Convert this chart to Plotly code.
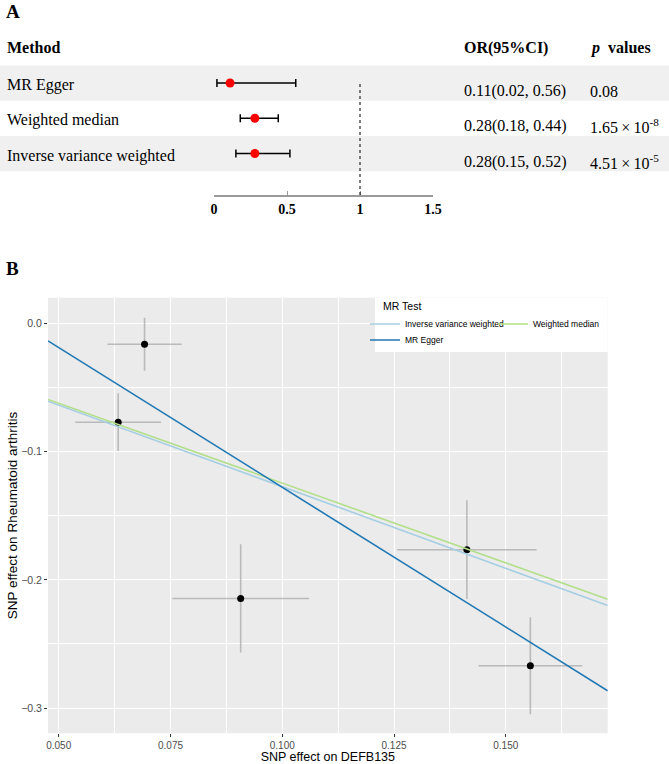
import plotly.graph_objects as go

# ------------------------
# Panel A data (forest plot)
# ------------------------
methods = ["MR Egger", "Weighted median", "Inverse variance weighted"]
or_est = [0.11, 0.28, 0.28]
or_lo = [0.02, 0.18, 0.15]
or_hi = [0.56, 0.44, 0.52]
or_text = ["0.11(0.02, 0.56)", "0.28(0.18, 0.44)", "0.28(0.15, 0.52)"]
p_text = ["0.08", "1.65\u2009\u00d7\u200910<sup>-8</sup>", "4.51\u2009\u00d7\u200910<sup>-5</sup>"]
row_pos = [3, 2, 1]

# ------------------------
# Panel B data (SNP scatter)
# ------------------------
beta_exp = [0.0692, 0.0633, 0.0907, 0.1413, 0.1555]
se_exp = [0.0083, 0.0096, 0.0153, 0.0156, 0.0116]
beta_out = [-0.0162, -0.0770, -0.2145, -0.1765, -0.2670]
se_out = [0.0207, 0.0225, 0.0422, 0.0385, 0.0378]

mr_methods = ["Inverse variance weighted", "Weighted median", "MR Egger"]
mr_slope = [-1.273, -1.245, -2.18]
mr_intercept = [0.0, 0.0, 0.0902]
mr_colors = ["#A6CEE3", "#B2DF8A", "#1F78B4"]
mr_legend = ["legend", "legend", "legend2"]

W, H = 669, 764
px = lambda v: v / W
py = lambda v: 1 - v / H

serif = "Liberation Serif"
sans = "Liberation Sans"

xr_b = [0.0476, 0.1728]
yr_b = [-0.3197, 0.0201]
yr_a = [-0.177, 4.22]

fig = go.Figure()

# forest plot points + CI
fig.add_trace(go.Scatter(
    x=or_est, y=row_pos, mode="markers",
    marker=dict(color="red", size=9),
    error_x=dict(type="data", symmetric=False,
                 array=[h - e for h, e in zip(or_hi, or_est)],
                 arrayminus=[e - l for e, l in zip(or_est, or_lo)],
                 color="black", thickness=1.5, width=4),
    xaxis="x", yaxis="y", showlegend=False, hoverinfo="skip"))

# scatter: SNP effects with error bars
fig.add_trace(go.Scatter(
    x=beta_exp, y=beta_out, mode="markers",
    marker=dict(color="black", size=7),
    error_x=dict(type="data", array=se_exp, color="rgba(170,170,170,0.75)", thickness=1.6, width=0),
    error_y=dict(type="data", array=se_out, color="rgba(170,170,170,0.75)", thickness=1.6, width=0),
    xaxis="x2", yaxis="y2", showlegend=False, hoverinfo="skip"))

# MR regression lines
for name, b, a, col, lg in zip(mr_methods, mr_slope, mr_intercept, mr_colors, mr_legend):
    fig.add_trace(go.Scatter(
        x=xr_b, y=[a + b * x for x in xr_b], mode="lines",
        line=dict(color=col, width=1.6), name=name, legend=lg,
        xaxis="x2", yaxis="y2", hoverinfo="skip"))

shapes = []
# shaded bands for rows 1 and 3
for r in (3, 1):
    shapes.append(dict(type="rect", xref="paper", yref="y", x0=0, x1=1,
                       y0=r - 0.5, y1=r + 0.5, fillcolor="#F0F0F0",
                       line=dict(width=0), layer="below"))
# reference line at OR = 1
shapes.append(dict(type="line", xref="x", yref="y", x0=1, x1=1,
                   y0=yr_a[0], y1=3, line=dict(color="black", width=1, dash="dot")))
# grey panel background for B
shapes.append(dict(type="rect", xref="x2 domain", yref="y2 domain", x0=0, x1=1, y0=0, y1=1,
                   fillcolor="#EBEBEB", line=dict(width=0), layer="below"))
# legend box
shapes.append(dict(type="rect", xref="paper", yref="paper", x0=px(375), x1=px(607.7),
                   y0=py(352), y1=py(297.7), fillcolor="white", line=dict(width=0), layer="above"))

ann = []
ann.append(dict(text="<b>A</b>", x=px(4), y=py(12), xref="paper", yref="paper",
                xanchor="left", yanchor="middle", showarrow=False,
                font=dict(family=serif, size=19, color="black")))
ann.append(dict(text="<b>B</b>", x=px(4), y=py(268), xref="paper", yref="paper",
                xanchor="left", yanchor="middle", showarrow=False,
                font=dict(family=serif, size=19, color="black")))
ann.append(dict(text="MR Test", x=px(381), y=py(306), xref="paper", yref="paper",
                xanchor="left", yanchor="middle", showarrow=False,
                font=dict(family=sans, size=10.5, color="black")))
# headers
for txt, x in [("<b>Method</b>", 5), ("<b>OR(95%CI)</b>", 462),
               ("<b><i>p</i>\u00a0\u00a0values</b>", 588)]:
    ann.append(dict(text=txt, x=px(x), y=4, xref="paper", yref="y",
                    xanchor="left", yanchor="middle", showarrow=False,
                    font=dict(family=serif, size=16, color="black")))
# row texts
for m, o, p, r in zip(methods, or_text, p_text, row_pos):
    ann.append(dict(text=m, x=px(5), y=r, yshift=-2, xref="paper", yref="y",
                    xanchor="left", yanchor="middle", showarrow=False,
                    font=dict(family=serif, size=16, color="black")))
    ann.append(dict(text=o, x=px(462), y=r, yshift=-8, xref="paper", yref="y",
                    xanchor="left", yanchor="middle", showarrow=False,
                    font=dict(family=serif, size=16, color="black")))
    ann.append(dict(text=p, x=px(588), y=r, yshift=-8, xref="paper", yref="y",
                    xanchor="left", yanchor="middle", showarrow=False,
                    font=dict(family=serif, size=16, color="black")))

fig.update_layout(
    width=W, height=H,
    margin=dict(l=0, r=0, t=0, b=0, autoexpand=False),
    paper_bgcolor="white", plot_bgcolor="rgba(0,0,0,0)",
    shapes=shapes, annotations=ann,
    xaxis=dict(domain=[px(214), px(433)], range=[0, 1.5], anchor="y",
               tickvals=[0, 0.5, 1, 1.5], ticktext=["0", "0.5", "1", "1.5"],
               showline=True, linecolor="#9A9A9A", linewidth=1.5,
               ticks="inside", ticklen=4, tickcolor="#9A9A9A", tickwidth=1.2,
               showgrid=False, zeroline=False,
               tickfont=dict(family=serif, size=14, color="black", weight="bold")),
    yaxis=dict(domain=[py(195), py(40)], range=yr_a, anchor="x",
               showticklabels=False, showgrid=False, zeroline=False, ticks=""),
    xaxis2=dict(domain=[px(48), px(607.7)], range=xr_b, anchor="y2",
                tick0=0.05, dtick=0.025, tickformat=".3f",
                showgrid=True, gridcolor="white", gridwidth=1.2, zeroline=False,
                minor=dict(tick0=0.05, dtick=0.0125, showgrid=True, gridcolor="white", gridwidth=0.6),
                ticks="outside", ticklen=3, tickcolor="#333333", tickwidth=1,
                tickfont=dict(family=sans, size=10, color="#4D4D4D"),
                title=dict(text="SNP effect on DEFB135", standoff=4,
                           font=dict(family=sans, size=12.5, color="black"))),
    yaxis2=dict(domain=[py(733.3), py(297.7)], range=yr_b, anchor="x2",
                tick0=0, dtick=0.1, tickformat=".1f",
                showgrid=True, gridcolor="white", gridwidth=1.2, zeroline=False,
                minor=dict(tick0=0, dtick=0.05, showgrid=True, gridcolor="white", gridwidth=0.6),
                ticks="outside", ticklen=3, tickcolor="#333333", tickwidth=1,
                tickfont=dict(family=sans, size=10.5, color="#4D4D4D"),
                title=dict(text="SNP effect on Rheumatoid arthritis", standoff=0,
                           font=dict(family=sans, size=13.5, color="black"))),
    legend=dict(orientation="h", x=px(365), y=py(309.5), xanchor="left", yanchor="top",
                bgcolor="rgba(0,0,0,0)", font=dict(family=sans, size=8.5, color="black"),
                entrywidth=83, entrywidthmode="pixels", itemwidth=30, tracegroupgap=0),
    legend2=dict(orientation="h", x=px(365), y=py(325.5), xanchor="left", yanchor="top",
                 bgcolor="rgba(0,0,0,0)", font=dict(family=sans, size=8.5, color="black"),
                 itemwidth=30),
)

# drop the default page margin so the figure sits at the window's corner
fig.write_html("out.html", config={"displayModeBar": False},
               post_script="document.body.style.margin='0';")
